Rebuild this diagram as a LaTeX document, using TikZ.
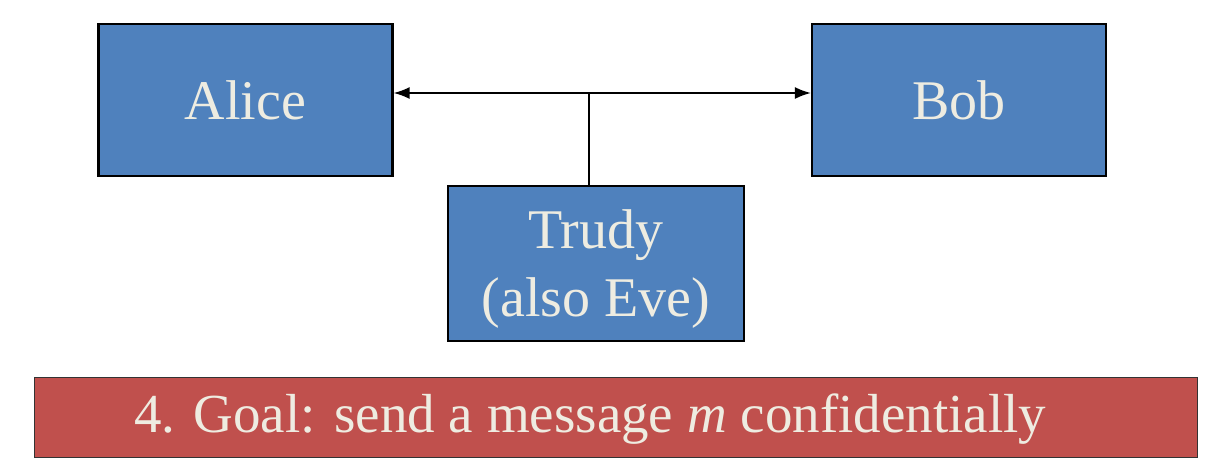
\documentclass[tikz,border=0pt]{standalone}
\usepackage{fontspec}
\setmainfont{Liberation Serif}
\usetikzlibrary{arrows.meta}
\definecolor{boxblue}{HTML}{4F81BD}
\definecolor{barred}{HTML}{C0504D}
\definecolor{cream}{HTML}{EEECE1}
\begin{document}
\begin{tikzpicture}[x=1pt,y=-1pt,
  party/.style={draw=black,line width=2.2pt,fill=boxblue,text=cream,
    font=\fontsize{56}{68}\selectfont,align=center,inner sep=0pt},
  link/.style={line width=1.8pt,draw=black}]
\useasboundingbox (0,0) rectangle (1215,474);
\node[party,minimum width=294pt,minimum height=152pt] (alice) at (245.5,100) {Alice};
\node[party,minimum width=294pt,minimum height=152pt] (bob) at (959,100) {Bob};
\node[party,minimum width=296pt,minimum height=155pt] (trudy) at (596,263.5) {Trudy\\(also Eve)\\[-68pt]\mbox{}};
\coordinate (aE) at ([yshift=7pt]alice.east);
\coordinate (bW) at ([yshift=7pt]bob.west);
\coordinate (tN) at ([xshift=-7pt]trudy.north);
\coordinate (mid) at (tN |- aE);
\draw[link,{Latex[length=16pt,width=12pt]}-{Latex[length=16pt,width=12pt]}] (aE) -- (bW);
\draw[link] (mid) -- (tN);
\node[draw=black!80,line width=1.4pt,fill=barred,minimum width=1163pt,minimum height=80pt,inner sep=0pt] (bar) at (616,417.5) {};
\node[text=cream,font=\fontsize{55}{60}\selectfont,anchor=base west,inner sep=0pt] (goal) at (134,432) {4. Goal: send a message \textit{m} confidentially};
\end{tikzpicture}
\end{document}
